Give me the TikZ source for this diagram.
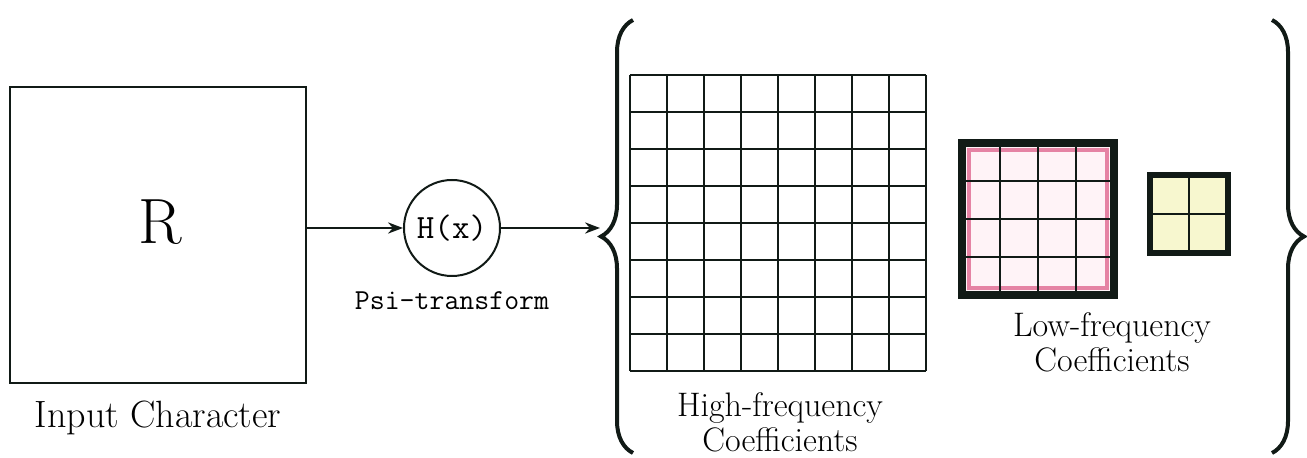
\documentclass[tikz,border=0pt]{standalone}
\usetikzlibrary{positioning,decorations.pathreplacing,arrows.meta}

\begin{document}
\begin{tikzpicture}[x=0.5pt, y=-0.5pt, >=Stealth,
    labelText/.style={font=\fontsize{17}{17.5}\selectfont, align=center}]
    \definecolor{lineColour}{HTML}{111A16}
    \definecolor{pinkColour}{HTML}{E583A4}
    \definecolor{pinkFill}{HTML}{FFF3F7}
    \definecolor{yellowFill}{HTML}{F7F7CF}

    \def\cellSize{37}
    \def\lowSize{38}
    \def\tinySize{39}

    \useasboundingbox (0,0) rectangle (1307,458);

    % input character
    \node[draw=lineColour, line width=1pt, minimum width=148pt, minimum height=148pt, inner sep=0pt] (input) at (158,235) {};
    \node[font=\fontsize{32}{36}\selectfont] (letter) at (160,222) {R};
    \node[labelText, font=\fontsize{19}{20}\selectfont, below=5pt of input] (inputLabel) {Input Character};

    % psi transform
    \node[circle, draw=lineColour, line width=1pt, minimum size=48pt, inner sep=0pt, font=\ttfamily\fontsize{17}{18}\selectfont] (psi) at (452,228) {H(x)};
    \node[below=4pt of psi, font=\ttfamily\fontsize{14.5}{16}\selectfont] (psiLabel) {Psi-transform};

    \coordinate (leftTip) at (600,228);

    \draw[->, line width=1pt, lineColour] (input.east |- psi.west) -- (psi.west);
    \draw[->, line width=1pt, lineColour] (psi.east) -- (leftTip);

    % braces
    \draw[decorate, decoration={brace, amplitude=16pt}, line width=2pt, lineColour] (633,453) -- (633,20);
    \draw[decorate, decoration={brace, amplitude=16pt}, line width=2pt, lineColour] (1272,20) -- (1272,453);

    % high-frequency grid
    \foreach \i in {0,...,8} {
        \draw[line width=1pt, lineColour] (630+\i*\cellSize,75) -- (630+\i*\cellSize,371);
        \draw[line width=1pt, lineColour] (630,75+\i*\cellSize) -- (926,75+\i*\cellSize);
    }
    \node[labelText] (highLabel) at (780,422) {High-frequency\\Coefficients};

    % low-frequency grids
    \fill[pinkFill] (962,143) rectangle (962+4*\lowSize,143+4*\lowSize);
    \draw[pinkColour, line width=2pt] (969,150) rectangle (962+4*\lowSize-7,143+4*\lowSize-7);
    \foreach \i in {1,2,3} {
        \draw[line width=1.3pt, lineColour] (962+\i*\lowSize,143) -- (962+\i*\lowSize,143+4*\lowSize);
        \draw[line width=1.3pt, lineColour] (962,143+\i*\lowSize) -- (962+4*\lowSize,143+\i*\lowSize);
    }
    \draw[line width=4pt, lineColour] (962,143) rectangle (962+4*\lowSize,143+4*\lowSize);

    \filldraw[fill=yellowFill, draw=lineColour, line width=3pt] (1150,175) rectangle (1150+2*\tinySize,175+2*\tinySize);
    \draw[line width=1.3pt, lineColour] (1150+\tinySize,175) -- (1150+\tinySize,175+2*\tinySize);
    \draw[line width=1.3pt, lineColour] (1150,175+\tinySize) -- (1150+2*\tinySize,175+\tinySize);

    \node[labelText] (lowLabel) at (1112,342) {Low-frequency\\Coefficients};

\end{tikzpicture}
\end{document}
